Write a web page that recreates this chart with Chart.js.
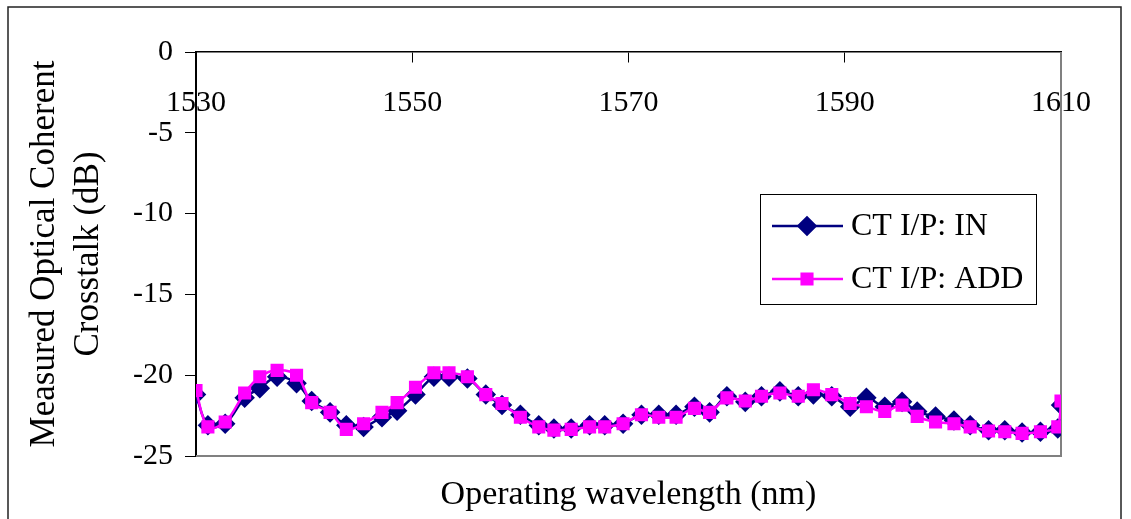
<!DOCTYPE html>
<html>
<head>
<meta charset="utf-8">
<script src="https://cdn.jsdelivr.net/npm/chart.js@4.4.1/dist/chart.umd.min.js"></script>
<style>
  html, body { margin: 0; padding: 0; background: #fff; }
  canvas { display: block; }
</style>
</head>
<body>
<canvas id="crosstalkChart" width="1131" height="519"></canvas>
<script>
// wavelength (nm) of each measurement
const wavelengths = [1530.0, 1531.1, 1532.7, 1534.5, 1535.9, 1537.5, 1539.3, 1540.7, 1542.4, 1543.9,
  1545.5, 1547.2, 1548.6, 1550.3, 1552.0, 1553.4, 1555.1, 1556.8, 1558.3, 1560.0,
  1561.7, 1563.1, 1564.7, 1566.4, 1567.8, 1569.5, 1571.2, 1572.8, 1574.4, 1576.1,
  1577.5, 1579.1, 1580.8, 1582.3, 1584.0, 1585.7, 1587.1, 1588.8, 1590.5, 1592.0,
  1593.7, 1595.3, 1596.7, 1598.4, 1600.1, 1601.6, 1603.3, 1604.8, 1606.4, 1608.1,
  1609.7, 1610.0]

// measured crosstalk (dB)
const ctIn = [-21.2, -23.1, -23.0, -21.4, -20.8, -20.1, -20.5, -21.6, -22.3, -23.1,
  -23.2, -22.6, -22.2, -21.2, -20.1, -20.1, -20.2, -21.2, -21.85, -22.45,
  -23.1, -23.3, -23.3, -23.1, -23.1, -23.0, -22.45, -22.45, -22.45, -21.95,
  -22.3, -21.3, -21.65, -21.3, -21.0, -21.3, -21.2, -21.3, -21.95, -21.4,
  -21.95, -21.65, -22.25, -22.55, -22.8, -23.1, -23.4, -23.4, -23.55, -23.5,
  -23.3, -21.85]
const ctAdd = [-20.95, -23.2, -22.9, -21.1, -20.1, -19.7, -20.0, -21.7, -22.3, -23.35,
  -23.0, -22.3, -21.7, -20.75, -19.85, -19.85, -20.1, -21.2, -21.75, -22.6,
  -23.2, -23.4, -23.35, -23.2, -23.2, -23.0, -22.45, -22.6, -22.6, -22.05,
  -22.3, -21.4, -21.6, -21.3, -21.1, -21.3, -20.9, -21.2, -21.75, -21.95,
  -22.25, -21.85, -22.55, -22.9, -23.0, -23.2, -23.45, -23.5, -23.6, -23.5,
  -23.2, -21.6]

const seriesLabels = ["CT I/P: IN", "CT I/P: ADD"]
const xRange = [1530, 1610]
const xStep = 20
const yRange = [-25, 0]
const yStep = 5

const serif = "'Liberation Serif', 'Times New Roman', serif"
Chart.defaults.font.family = serif
Chart.defaults.color = "#000"

const toPoints = (ys) => wavelengths.map((x, i) => ({ x: x, y: ys[i] }))

// frame, gray plot border and boxed legend like the original figure
const decorations = {
  id: "decorations",
  beforeDatasetsDraw(chart) {
    const { ctx, chartArea: a } = chart
    ctx.save()
    ctx.strokeStyle = "#808080"
    ctx.lineWidth = 2
    ctx.beginPath()
    ctx.moveTo(a.left, a.bottom)
    ctx.lineTo(a.right, a.bottom)
    ctx.lineTo(a.right, a.top)
    ctx.stroke()
    ctx.restore()
  },
  afterDraw(chart) {
    const { ctx } = chart
    ctx.save()
    ctx.strokeStyle = "#222"
    ctx.lineWidth = 1.5
    ctx.strokeRect(8, 7, 1113, 600)

    // legend box
    const bx = 760, by = 194, bw = 276, bh = 110
    ctx.fillStyle = "#fff"
    ctx.fillRect(bx, by, bw, bh)
    ctx.strokeStyle = "#000"
    ctx.lineWidth = 1
    ctx.strokeRect(bx + 0.5, by + 0.5, bw, bh)
    const rows = [226, 279]
    const order = [1, 0]
    rows.forEach((ry, i) => {
      const ds = chart.data.datasets[order[i]]
      ctx.strokeStyle = ds.borderColor
      ctx.lineWidth = 2.5
      ctx.beginPath()
      ctx.moveTo(772, ry)
      ctx.lineTo(843, ry)
      ctx.stroke()
      Chart.helpers.drawPoint(ctx, {
        pointStyle: ds.pointStyle, radius: ds.pointRadius, borderWidth: 1
      }, 807, ry)
      ctx.fillStyle = ds.pointBackgroundColor
      ctx.strokeStyle = ds.pointBorderColor
      ctx.fill()
      ctx.fillStyle = "#000"
      ctx.font = "32px " + serif
      ctx.textBaseline = "middle"
      ctx.textAlign = "left"
      ctx.fillText(ds.label, 851, ry + 1)
    })
    ctx.restore()
  }
}

new Chart(document.getElementById("crosstalkChart"), {
  type: "line",
  data: {
    datasets: [
      {
        label: seriesLabels[1],
        data: toPoints(ctAdd),
        borderColor: "#ff00ff",
        backgroundColor: "#ff00ff",
        pointBackgroundColor: "#ff00ff",
        pointBorderColor: "#ff00ff",
        pointStyle: "rect",
        pointRadius: 7.5,
        borderWidth: 2.5,
        tension: 0.35,
        order: 0
      },
      {
        label: seriesLabels[0],
        data: toPoints(ctIn),
        borderColor: "#000080",
        backgroundColor: "#000080",
        pointBackgroundColor: "#000080",
        pointBorderColor: "#000080",
        pointStyle: "rectRot",
        pointRadius: 8.5,
        borderWidth: 2.5,
        tension: 0.35,
        order: 1
      }
    ]
  },
  options: {
    responsive: false,
    animation: false,
    devicePixelRatio: 1,
    layout: { padding: { left: 10, right: 70, top: 52, bottom: 0 } },
    plugins: { legend: { display: false }, tooltip: { enabled: false } },
    scales: {
      x: {
        type: "linear",
        position: { y: 0 },
        min: xRange[0],
        max: xRange[1],
        grid: { drawOnChartArea: false, tickLength: 10, color: "#000", tickWidth: 1 },
        border: { color: "#000", width: 1.5 },
        ticks: {
          stepSize: xStep, padding: 23, font: { size: 30 }, maxRotation: 0, autoSkip: false,
          callback: (v) => String(v)
        }
      },
      xTitle: {
        type: "linear",
        axis: "x",
        position: "bottom",
        min: xRange[0],
        max: xRange[1],
        grid: { display: false, drawTicks: false },
        border: { display: false },
        ticks: { display: false },
        title: { display: true, text: "Operating wavelength (nm)", font: { size: 34 }, padding: { top: 0, bottom: 4 } },
        afterFit: (scale) => { scale.height = 63 }
      },
      y: {
        type: "linear",
        min: yRange[0],
        max: yRange[1],
        grid: { drawOnChartArea: false, tickLength: 11, color: "#000" },
        border: { color: "#000", width: 2 },
        ticks: { stepSize: yStep, padding: 12, font: { size: 30 } },
        title: {
          display: true,
          text: ["Measured Optical Coherent", "Crosstalk (dB)"],
          font: { size: 35, lineHeight: 1.28 },
          padding: { top: 12, bottom: 0 }
        },
        afterFit: (scale) => { scale.width = 186 }
      }
    }
  },
  plugins: [decorations]
})
</script>
</body>
</html>
